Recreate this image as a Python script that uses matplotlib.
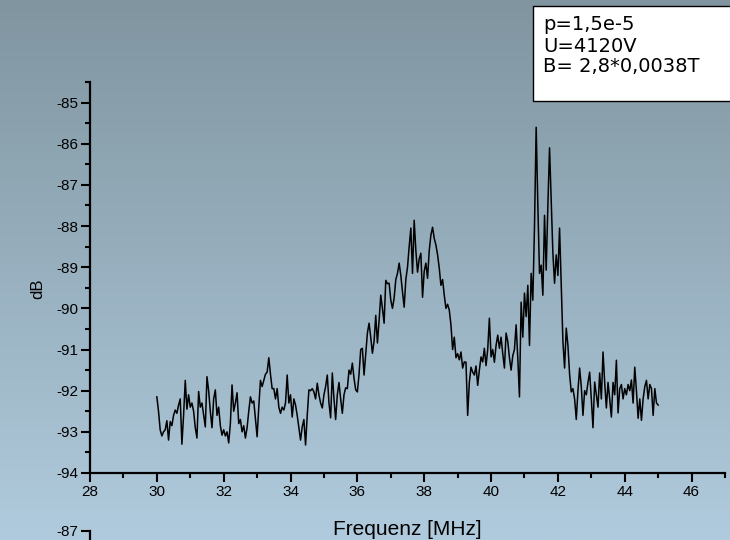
import numpy as np
import matplotlib
matplotlib.use("Agg")
import matplotlib.pyplot as plt
from matplotlib.patches import Rectangle

plt.rcParams['font.family'] = ['Liberation Sans', 'DejaVu Sans']

# Frequenz 30..45 MHz, Schritt 0.05
freq_start = 30.0
freq_step = 0.05
db = [
    # 30 MHz
    -92.15, -92.5, -92.95, -93.1, -93.0, -92.95, -92.73, -93.2, -92.75, -92.85,
    -92.6, -92.47, -92.55, -92.35, -92.2, -93.3, -92.6, -91.75, -92.45, -92.1,
    # 31
    -92.4, -92.3, -92.5, -92.9, -93.15, -92.02, -92.4, -92.3, -92.6, -92.88,
    -91.66, -92.0, -92.5, -92.9, -92.2, -91.98, -92.6, -92.4, -92.85, -93.08,
    # 32
    -92.95, -93.1, -93.0, -93.27, -92.8, -91.86, -92.5, -92.3, -92.05, -92.8,
    -92.7, -93.0, -92.85, -93.15, -92.9, -92.5, -92.15, -92.3, -92.25, -92.7,
    # 33
    -93.12, -92.4, -91.75, -91.9, -91.75, -91.6, -91.55, -91.2, -91.6, -91.95,
    -91.95, -92.2, -91.95, -92.4, -92.55, -92.4, -92.47, -92.3, -91.62, -92.3,
    # 34
    -92.1, -92.64, -92.2, -92.35, -92.6, -92.9, -93.2, -92.88, -92.7, -93.32,
    -92.6, -91.98, -92.0, -91.95, -92.03, -92.2, -91.82, -92.1, -92.3, -92.42,
    # 35
    -92.1, -91.9, -91.62, -92.3, -92.66, -91.57, -92.2, -92.7, -92.1, -91.8,
    -92.2, -92.55, -92.1, -91.93, -91.95, -91.5, -91.6, -91.33, -91.7, -91.98,
    # 36
    -92.03, -91.6, -91.0, -90.97, -91.62, -91.1, -90.6, -90.36, -90.7, -91.09,
    -90.8, -90.17, -90.84, -90.3, -89.68, -90.0, -90.36, -89.32, -89.4, -89.39,
    # 37
    -89.8, -90.0, -89.75, -89.3, -89.15, -88.9, -89.2, -89.6, -89.97, -89.3,
    -89.0, -88.5, -88.05, -89.15, -87.86, -88.6, -89.12, -88.8, -88.66, -89.73,
    # 38
    -89.1, -88.9, -89.27, -88.6, -88.22, -88.03, -88.3, -88.46, -88.7, -89.02,
    -89.44, -89.3, -89.68, -90.0, -89.9, -90.04, -90.4, -91.0, -90.7, -91.2,
    # 39
    -91.1, -91.25, -91.06, -91.45, -91.3, -91.31, -92.6, -91.8, -91.43, -91.55,
    -91.62, -91.4, -91.87, -91.5, -91.18, -91.3, -90.97, -91.39, -91.0, -90.24,
    # 40
    -91.18, -91.0, -91.31, -90.9, -90.65, -90.97, -90.7, -91.1, -91.45, -90.6,
    -90.8, -91.2, -91.5, -91.15, -91.0, -90.4, -91.2, -92.15, -89.85, -90.7,
    # 41
    -89.63, -90.2, -89.44, -90.9, -89.15, -89.8, -88.0, -85.6, -87.5, -89.15,
    -88.95, -89.68, -87.74, -89.07, -87.5, -86.1, -87.37, -88.66, -89.39, -88.7,
    # 42
    -89.2, -88.05, -89.39, -90.8, -91.45, -90.48, -90.9, -91.6, -92.03, -91.95,
    -92.2, -92.7, -92.0, -91.45, -91.9, -92.6, -92.0, -92.1, -91.8, -91.55,
    # 43
    -92.2, -92.9, -91.79, -92.1, -92.4, -91.57, -92.2, -91.06, -91.8, -92.42,
    -91.8, -92.2, -92.64, -91.8, -92.1, -91.26, -92.54, -91.95, -91.85, -92.2,
    # 44 .. 45
    -91.95, -92.1, -91.85, -92.0, -91.74, -92.3, -91.43, -92.0, -92.67, -92.2,
    -92.72, -92.2, -91.9, -91.75, -92.2, -91.85, -91.95, -92.6, -91.95, -92.3,
    -92.35,
]
freq = freq_start + freq_step * np.arange(len(db))

box_lines = ['p=1,5e-5', 'U=4120V', 'B= 2,8*0,0038T']

fig = plt.figure(figsize=(7.3, 5.4), dpi=100)

# Hintergrund mit Farbverlauf
bg = fig.add_axes([0, 0, 1, 1], zorder=-10)
top = np.array([128, 149, 160]) / 255.0
bot = np.array([176, 203, 221]) / 255.0
t = np.linspace(0, 1, 256)[:, None]
grad = (top[None, :] * (1 - t) + bot[None, :] * t)[:, None, :]
bg.imshow(grad, aspect='auto', extent=[0, 1, 0, 1], interpolation='bilinear')
bg.set_axis_off()

ax = fig.add_axes([90 / 730, 1 - 473 / 540, (725 - 90) / 730, (473 - 82) / 540])
ax.set_facecolor('none')
ax.plot(freq, db, color='black', lw=1.1)

ax.set_xlim(28, 47)
ax.set_ylim(-94, -84.5)
ax.set_xticks(np.arange(28, 47, 2))
ax.set_xticks(np.arange(28, 48, 1), minor=True)
ax.set_yticks(np.arange(-94, -84, 1))
ax.set_yticks(np.arange(-94, -84.4, 0.5), minor=True)
ax.set_yticklabels([str(v) for v in range(-94, -84)])

for s in ['top', 'right']:
    ax.spines[s].set_visible(False)
for s in ['left', 'bottom']:
    ax.spines[s].set_linewidth(1.6)
ax.tick_params(which='major', direction='out', length=6.5, width=1.5, labelsize=11, pad=2)
ax.tick_params(which='minor', direction='out', length=3.6, width=1.5)

ax.set_xlabel('Frequenz [MHz]', fontsize=15, labelpad=15)
ax.set_ylabel('dB', fontsize=12)
ax.yaxis.set_label_coords(-0.07, 0.47)

# zweite Achse am unteren Rand (nur Anfang sichtbar)
ax2 = fig.add_axes([90 / 730, -0.3, 0.5, 0.3 + (540 - 531) / 540])
ax2.set_facecolor('none')
ax2.set_ylim(-94, -87)
ax2.set_yticks([-87])
ax2.set_yticklabels(['-87'])
ax2.set_xticks([])
for s in ['top', 'right', 'bottom']:
    ax2.spines[s].set_visible(False)
ax2.spines['left'].set_linewidth(1.6)
ax2.tick_params(axis='y', direction='out', length=6.5, width=1.5, labelsize=11, pad=2)

# Textkasten oben rechts
fig.patches.append(Rectangle((533 / 730, 1 - 101 / 540), 0.4, (101 - 6) / 540,
                             transform=fig.transFigure, facecolor='white',
                             edgecolor='black', lw=1.0, zorder=5))
for k, line in enumerate(box_lines):
    fig.text(543 / 730, 1 - (25 + 21 * k) / 540, line, fontsize=14,
             family=['DejaVu Sans'], va='center', ha='left', zorder=6)

fig.savefig('out.png', dpi=100)
